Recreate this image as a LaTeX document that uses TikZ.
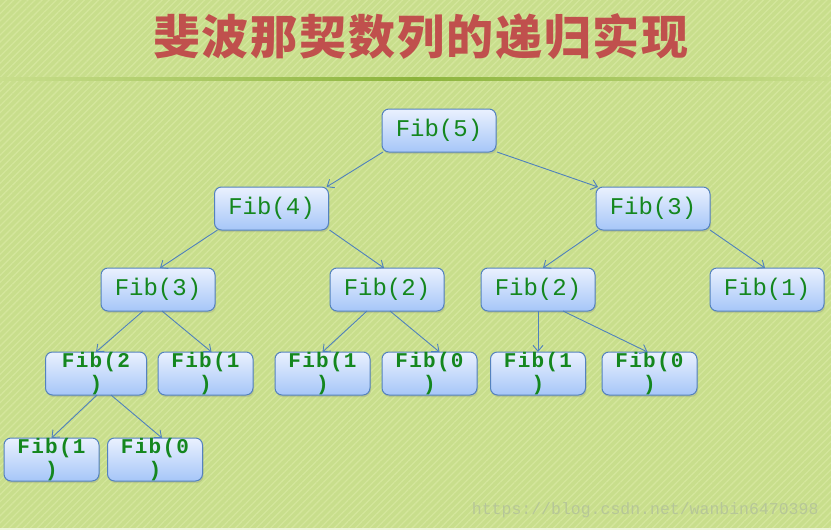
\documentclass[tikz,border=0pt]{standalone}
\usepackage{fontspec}
\usetikzlibrary{arrows.meta,shadows,patterns.meta}
\newfontfamily\titlefont[LetterSpace=4]{Noto Sans CJK SC}
\newfontfamily\fibfont{Liberation Mono}
\newfontfamily\fibbold[LetterSpace=6]{Liberation Mono}
\definecolor{bggreen}{RGB}{200,222,140}
\definecolor{stripe}{RGB}{212,230,156}
\definecolor{rulegreen}{RGB}{140,180,60}
\definecolor{titlered}{RGB}{192,80,77}
\definecolor{boxline}{RGB}{84,130,190}
\definecolor{boxtop}{RGB}{234,241,254}
\definecolor{boxbottom}{RGB}{166,198,248}
\definecolor{fibgreen}{RGB}{20,135,30}
\definecolor{edgeblue}{RGB}{79,129,189}
\definecolor{markgray}{RGB}{182,198,152}
\begin{document}
\begin{tikzpicture}[
        x=1pt, y=-1pt,
        fibbox/.style={
            rectangle,
            rounded corners=7pt,
            draw=boxline,
            line width=1pt,
            top color=boxtop,
            bottom color=boxbottom,
            minimum width=114pt,
            minimum height=43pt,
            inner sep=0pt,
            outer sep=0pt,
            text=fibgreen,
            font=\fibfont\fontsize{24}{26}\selectfont,
            drop shadow={shadow xshift=1pt, shadow yshift=-2pt, opacity=0.25}
        },
        smallbox/.style={
            fibbox,
            minimum width=95pt,
            align=center,
            font=\fibbold\bfseries\fontsize{21}{23}\selectfont
        },
        edge/.style={-{Straight Barb[length=6pt,width=10pt]}, draw=edgeblue, line width=0.9pt}
    ]
    % Background
    \useasboundingbox (0,0) rectangle (831,530);
    \fill[bggreen] (0,0) rectangle (831,530);
    \fill[pattern={Lines[angle=45,distance=5pt,line width=1.3pt]}, pattern color=stripe] (0,0) rectangle (831,530);
    \shade[left color=bggreen, right color=bggreen, middle color=rulegreen] (0,77.5) rectangle (831,80.5);
    \fill[white!70!bggreen] (0,527.5) rectangle (831,530);

    % Title and watermark
    \node[text=titlered, font=\titlefont\bfseries\fontsize{47}{47}\selectfont] (title) at (421,37) {斐波那契数列的递归实现};
    \node[text=markgray, font=\fibfont\fontsize{16.5}{18}\selectfont, anchor=east] (mark) at (822,510) {https://blog.csdn.net/wanbin6470398};

    % Nodes
    \node[fibbox] (f5) at (439,130.5) {Fib(5)};
    \node[fibbox] (f4) at (271.5,208.5) {Fib(4)};
    \node[fibbox] (f3r) at (653,208.5) {Fib(3)};
    \node[fibbox] (f3l) at (158,289.5) {Fib(3)};
    \node[fibbox] (f2m) at (387,289.5) {Fib(2)};
    \node[fibbox] (f2r) at (538,289.5) {Fib(2)};
    \node[fibbox] (f1) at (767,289.5) {Fib(1)};

    \node[smallbox, minimum width=101pt] (f2a) at (96,373.5) {Fib(2\\)};
    \node[smallbox] (f1a) at (205.5,373.5) {Fib(1\\)};
    \node[smallbox] (f1b) at (322.5,373.5) {Fib(1\\)};
    \node[smallbox] (f0b) at (429.5,373.5) {Fib(0\\)};
    \node[smallbox] (f1c) at (538,373.5) {Fib(1\\)};
    \node[smallbox] (f0c) at (649.5,373.5) {Fib(0\\)};

    \node[smallbox] (f1d) at (51.5,459.5) {Fib(1\\)};
    \node[smallbox] (f0d) at (155,459.5) {Fib(0\\)};

    % Connections
    \draw[edge] ([xshift=1pt]f5.south west) -- ([xshift=-2pt]f4.north east);
    \draw[edge] ([xshift=1pt]f5.south east) -- ([xshift=2pt]f3r.north west);
    \draw[edge] ([xshift=3pt]f4.south west) -- ([xshift=2pt]f3l.north);
    \draw[edge] ([xshift=1pt]f4.south east) -- ([xshift=-3pt]f2m.north);
    \draw[edge] ([xshift=2pt]f3r.south west) -- ([xshift=5pt]f2r.north);
    \draw[edge] (f3r.south east) -- ([xshift=-2pt]f1.north);
    \draw[edge] ([xshift=-15pt]f3l.south) -- (f2a.north);
    \draw[edge] ([xshift=4pt]f3l.south) -- ([xshift=6pt]f1a.north);
    \draw[edge] ([xshift=-20pt]f2m.south) -- (f1b.north);
    \draw[edge] ([xshift=3pt]f2m.south) -- ([xshift=10pt]f0b.north);
    \draw[edge] (f2r.south) -- (f1c.north);
    \draw[edge] ([xshift=25pt]f2r.south) -- ([xshift=-2pt]f0c.north);
    \draw[edge] ([xshift=1pt]f2a.south) -- (f1d.north);
    \draw[edge] ([xshift=15pt]f2a.south) -- ([xshift=7pt]f0d.north);
\end{tikzpicture}
\end{document}
